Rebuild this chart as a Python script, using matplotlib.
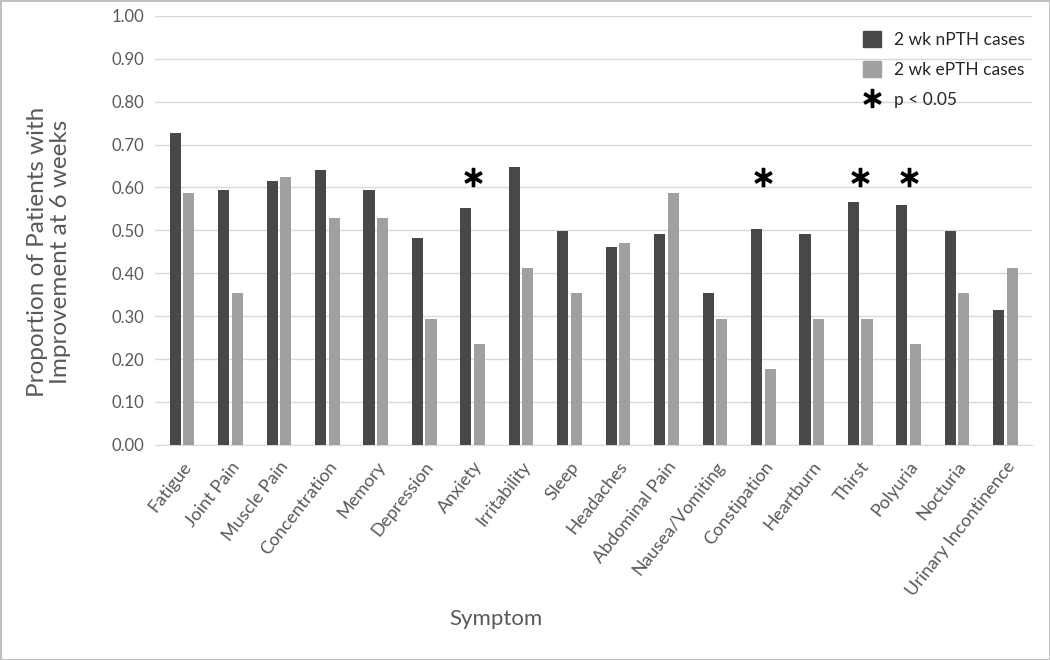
import matplotlib
matplotlib.use("Agg")
import matplotlib.pyplot as plt
import numpy as np
from matplotlib.patches import Patch
from matplotlib.lines import Line2D

categories = ["Fatigue", "Joint Pain", "Muscle Pain", "Concentration", "Memory",
              "Depression", "Anxiety", "Irritability", "Sleep", "Headaches",
              "Abdominal Pain", "Nausea/Vomiting", "Constipation", "Heartburn",
              "Thirst", "Polyuria", "Nocturia", "Urinary Incontinence"]
npth = [0.727, 0.593, 0.615, 0.641, 0.593, 0.482, 0.553, 0.647, 0.498, 0.462,
        0.492, 0.355, 0.503, 0.492, 0.565, 0.559, 0.498, 0.315]
epth = [0.588, 0.353, 0.625, 0.529, 0.529, 0.294, 0.235, 0.412, 0.353, 0.471,
        0.588, 0.294, 0.176, 0.294, 0.294, 0.235, 0.353, 0.412]
significant = [False, False, False, False, False, False, True, False, False, False,
               False, False, True, False, True, True, False, False]
series_names = ["2 wk nPTH cases", "2 wk ePTH cases"]
yticks = [0.0, 0.1, 0.2, 0.3, 0.4, 0.5, 0.6, 0.7, 0.8, 0.9, 1.0]

plt.rcParams['font.family'] = ['Lato', 'DejaVu Sans']

dark = '#484848'
light = '#a0a0a0'
txt = '#595959'

fig = plt.figure(figsize=(10.5, 6.6), dpi=100)
fig.patch.set_edgecolor('#c0c0c0')
fig.patch.set_linewidth(2)
ax = fig.add_axes([0.148, 0.326, 0.835, 0.650])

x = np.arange(len(categories))
w = 0.23
ax.bar(x - 0.14, npth, w, color=dark, zorder=3)
ax.bar(x + 0.14, epth, w, color=light, zorder=3)

sx = [xi for xi, s in zip(x, significant) if s]
ax.plot(sx, [0.625] * len(sx), linestyle='none', marker=r'$\ast$', markersize=13,
        color='black', zorder=4)

ax.set_xlim(-0.55, len(categories) - 0.45)
ax.set_ylim(0, 1.0)
ax.set_yticks(yticks)
ax.set_yticklabels([f"{v:.2f}" for v in yticks], fontsize=12, color=txt)
ax.set_xticks(x)
ax.set_xticklabels(categories, rotation=52, ha='right', rotation_mode='anchor',
                   fontsize=13, color=txt)
ax.tick_params(axis='both', length=0)
ax.tick_params(axis='x', pad=10)
ax.tick_params(axis='y', pad=8)
ax.yaxis.grid(True, color='#d9d9d9', linewidth=1, zorder=0)
for s in ['top', 'right', 'left']:
    ax.spines[s].set_visible(False)
ax.spines['bottom'].set_color('#d9d9d9')

ax.set_ylabel("Proportion of Patients with\nImprovement at 6 weeks", fontsize=17.5,
              color=txt, linespacing=1.15)
ax.yaxis.set_label_coords(-0.096, 0.45)
ax.set_xlabel("Symptom", fontsize=16, color=txt)
ax.xaxis.set_label_coords(0.388, -0.382)

handles = [Patch(color=dark), Patch(color=light),
           Line2D([], [], linestyle='none', marker=r'$\ast$', markersize=13, color='black')]
leg = ax.legend(handles, series_names + ["p < 0.05"], loc='upper right',
                bbox_to_anchor=(1.01, 1.0), frameon=False, fontsize=12.5,
                handlelength=1.0, handleheight=1.0, labelspacing=0.75, handletextpad=0.8)
for t in leg.get_texts():
    t.set_color('#262626')

fig.savefig("out.png", dpi=100)
